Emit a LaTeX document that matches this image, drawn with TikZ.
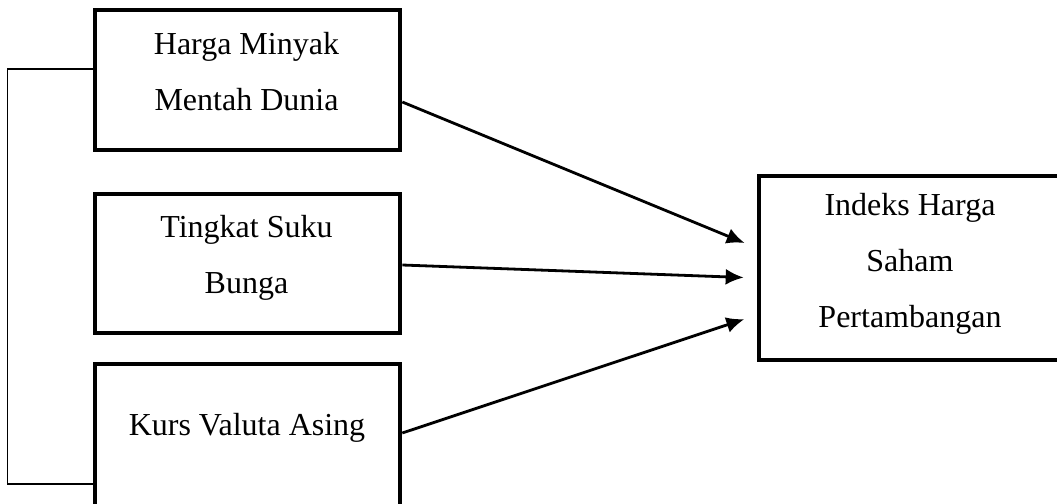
\documentclass[tikz,border=0pt]{standalone}
\usepackage{fontspec}
\setmainfont{Liberation Serif}
\usetikzlibrary{positioning,arrows.meta}

\begin{document}
\begin{tikzpicture}[x=0.5pt,y=-0.5pt,>={Latex[length=9pt,width=8pt]}]
  \tikzstyle{box}=[draw,line width=2.3pt,inner sep=0pt]
  \tikzstyle{txt}=[align=center,anchor=base,inner sep=0pt,font=\fontsize{16}{28}\selectfont]
  \tikzstyle{link}=[->,line width=1.4pt,shorten >=6.5pt]
  \clip (0,0) rectangle (1057,504);
  % variabel bebas
  \node[box,minimum width=152.5pt,minimum height=70pt] (minyak) at (247.5,80) {};
  \node[box,minimum width=152.5pt,minimum height=69.5pt] (bunga) at (247.5,263.5) {};
  \node[box,minimum width=152.5pt,minimum height=73pt] (kurs) at (247.5,437) {};
  % variabel terikat
  \node[box,minimum width=155.5pt,minimum height=92pt] (ihsp) at (914.5,268) {};
  \node[txt] (tminyak) at (246.5,110) {Harga Minyak\\Mentah Dunia};
  \node[txt] (tbunga) at (246.5,293) {Tingkat Suku\\Bunga};
  \node[txt] (tkurs) at (247,435) {Kurs Valuta Asing};
  \node[txt] (tihsp) at (910,327) {Indeks Harga\\Saham\\Pertambangan};
  \draw[link] ([yshift=-11pt]minyak.east) -- ([yshift=10pt]ihsp.west);
  \draw[link] ([yshift=-0.75pt]bunga.east) -- ([yshift=-5pt]ihsp.west);
  \draw[link] ([yshift=2pt]kurs.east) -- ([yshift=-23.5pt]ihsp.west);
  \draw[line width=0.75pt] ([yshift=5.5pt]minyak.west) -- ++(-85,0) |- ([yshift=-23.5pt]kurs.west);
\end{tikzpicture}
\end{document}
